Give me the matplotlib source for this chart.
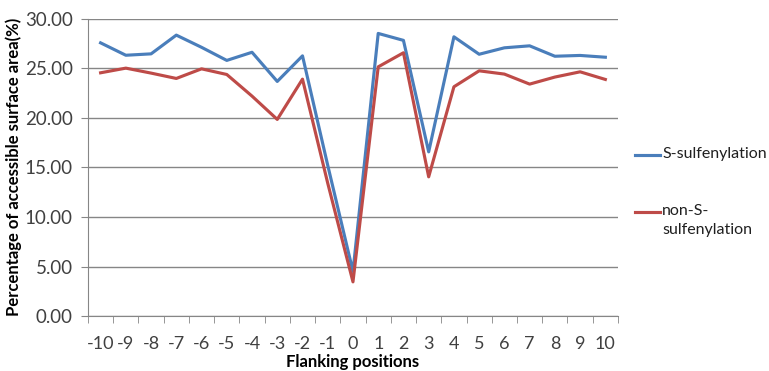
import matplotlib
matplotlib.use("Agg")
import matplotlib.pyplot as plt
from matplotlib.lines import Line2D
from matplotlib.ticker import FixedLocator

plt.rcParams['font.family'] = ['Lato', 'DejaVu Sans']

positions = list(range(-10, 11))
tick_labels = [str(p) for p in positions]
s_sulf = [27.55, 26.3, 26.44, 28.33, 27.1, 25.78, 26.6, 23.66, 26.24, 15.2, 4.5,
          28.5, 27.8, 16.56, 28.16, 26.4, 27.05, 27.25, 26.2, 26.28, 26.1]
non_s_sulf = [24.53, 25.0, 24.5, 23.96, 24.93, 24.36, 22.18, 19.83, 23.89, 13.4, 3.45,
              25.13, 26.55, 14.04, 23.12, 24.73, 24.4, 23.39, 24.1, 24.63, 23.86]

fig = plt.figure(figsize=(7.69, 3.71), dpi=100)
ax = fig.add_axes([0.1144, 0.148, 0.6892, 0.802])

blue = '#4A7EBB'
red = '#BE4B48'
grid_col = '#868686'

ax.plot(positions, s_sulf, color=blue, lw=2.25, zorder=3)
ax.plot(positions, non_s_sulf, color=red, lw=2.25, zorder=3)

ax.set_xlim(-10.5, 10.5)
ax.set_ylim(0, 30)
ax.set_yticks([0, 5, 10, 15, 20, 25, 30])
ax.set_yticklabels(['%.2f' % v for v in [0, 5, 10, 15, 20, 25, 30]])
ax.yaxis.grid(True, color=grid_col, lw=1)
ax.set_axisbelow(True)

# category labels at centers, tick marks between categories
ax.set_xticks(positions)
ax.set_xticklabels(tick_labels)
ax.xaxis.set_minor_locator(FixedLocator([p - 0.5 for p in positions] + [10.5]))
ax.tick_params(axis='x', which='major', length=0, pad=14, labelsize=13, colors='#404040')
ax.tick_params(axis='x', which='minor', length=5, color=grid_col, direction='out')
ax.tick_params(axis='y', length=5, color=grid_col, pad=6, labelsize=13.5, labelcolor='#404040')

for side in ['top', 'right']:
    ax.spines[side].set_visible(False)
for side in ['left', 'bottom']:
    ax.spines[side].set_color(grid_col)

ax.set_xlabel('Flanking positions', fontweight='bold', fontsize=12, labelpad=2)
ax.set_ylabel('Percentage of accessible surface area(%)', fontweight='bold', fontsize=12, labelpad=2)

# legend to the right, key line aligned with the first text line
W, H = 769, 371
entries = [('S-sulfenylation', blue, 155), ('non-S-\nsulfenylation', red, 212)]
for label, col, ypix in entries:
    yf = 1 - ypix / H
    fig.add_artist(Line2D([635 / W, 660 / W], [yf, yf], color=col, lw=2.25,
                          transform=fig.transFigure))
    fig.text(662 / W, 1 - (ypix - 8) / H, label, fontsize=11.5, color='#202020',
             va='top', ha='left', linespacing=1.45)

fig.savefig('out.png', dpi=100)
